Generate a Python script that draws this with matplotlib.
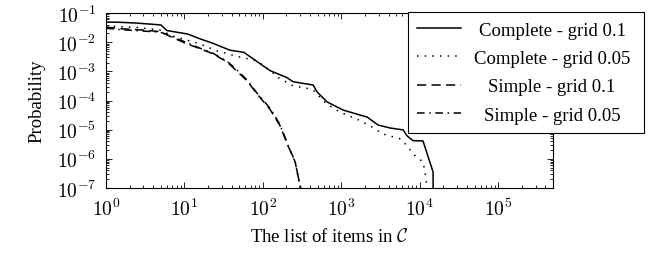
import numpy as np
import matplotlib
matplotlib.use("Agg")
import matplotlib.pyplot as plt
from matplotlib.ticker import LogLocator, NullFormatter, FuncFormatter
from matplotlib.offsetbox import VPacker

plt.rcParams['font.family'] = ['Liberation Serif', 'DejaVu Serif']
plt.rcParams['mathtext.fontset'] = 'cm'
plt.rcParams['font.size'] = 13.5

# values (probability vs list size)
x_comp_01 = [1, 1.5, 2.5, 5, 6, 11, 15.8, 23, 38, 57, 124, 200, 243, 437, 492,
             660, 1055, 1590, 2140, 2950, 4200, 6150, 6900, 8200, 11000, 12700,
             14800, 14800]
y_comp_01 = [0.049, 0.048, 0.045, 0.039, 0.025, 0.019, 0.013, 0.0092, 0.0053,
             0.0045, 0.00105, 6.2e-4, 4.4e-4, 3.4e-4, 1.95e-4, 8.9e-5, 4.7e-5,
             3.4e-5, 2.7e-5, 1.44e-5, 1.14e-5, 9.8e-6, 6.1e-6, 4.2e-6, 4.1e-6,
             1.25e-6, 3.5e-7, 1e-7]

x_comp_005 = [1, 2.5, 4.9, 7.1, 15.8, 26, 51, 84, 134, 152, 222, 243, 400, 437,
              465, 620, 720, 960, 1590, 2330, 3400, 5700, 6900, 8200, 11000,
              11700, 12400]
y_comp_005 = [0.036, 0.032, 0.026, 0.0163, 0.0087, 0.005, 0.0031, 0.0023,
              9.0e-4, 6.4e-4, 3.6e-4, 3.2e-4, 2.5e-4, 2.3e-4, 1.95e-4, 8.5e-5,
              6.4e-5, 4.0e-5, 2.3e-5, 1.35e-5, 7.1e-6, 4.8e-6, 2.8e-6, 1.47e-6,
              7.8e-7, 3.5e-7, 1.0e-7]

x_simp_01 = [1, 1.5, 3, 4.9, 6.5, 10.8, 15.8, 23, 35, 47, 63, 84, 123, 165,
             209, 258, 280, 305]
y_simp_01 = [0.033, 0.029, 0.026, 0.023, 0.016, 0.0087, 0.006, 0.004, 0.0021,
             0.001, 4.7e-4, 1.7e-4, 5.0e-5, 1.4e-5, 2.8e-6, 7.8e-7, 2.6e-7, 1e-7]

x_simp_005 = [1, 1.5, 3, 4.9, 6.5, 10.8, 15.8, 23, 35, 47, 63, 84, 123, 165,
              209, 258, 280, 300]
y_simp_005 = [0.030, 0.027, 0.024, 0.022, 0.017, 0.0095, 0.0062, 0.0042,
              0.0022, 0.0011, 5.0e-4, 1.8e-4, 5.5e-5, 1.5e-5, 3.0e-6, 8.0e-7,
              2.7e-7, 1e-7]

labels = ["Complete - grid 0.1", "Complete - grid 0.05",
          "Simple - grid 0.1", "Simple - grid 0.05"]

fig = plt.figure(figsize=(6.54, 2.55), dpi=100)
ax = fig.add_axes([106/654, 66/255, 447/654, 175/255])

ax.plot(x_comp_01, y_comp_01, color='black', lw=1.1, ls='-', label=labels[0])
ax.plot(x_comp_005, y_comp_005, color='black', lw=1.1, ls=(0, (1, 4)), label=labels[1])
ax.plot(x_simp_01, y_simp_01, color='black', lw=1.1, ls=(0, (6, 3.5)), label=labels[2])
ax.plot(x_simp_005, y_simp_005, color='black', lw=1.1, ls=(0, (5, 3, 1, 3)), label=labels[3])

ax.set_xscale('log')
ax.set_yscale('log')
ax.set_xlim(1, 5e5)
ax.set_ylim(1e-7, 1e-1)

# tick labels in computer modern, like the latex original
pow10 = FuncFormatter(lambda v, p: r'$10^{%d}$' % int(round(np.log10(v))))
ax.xaxis.set_major_locator(LogLocator(base=10, numticks=20))
ax.yaxis.set_major_locator(LogLocator(base=10, numticks=20))
ax.xaxis.set_major_formatter(pow10)
ax.yaxis.set_major_formatter(pow10)
ax.xaxis.set_minor_locator(LogLocator(base=10, subs=np.arange(2, 10), numticks=20))
ax.yaxis.set_minor_locator(LogLocator(base=10, subs=np.arange(2, 10), numticks=20))
ax.xaxis.set_minor_formatter(NullFormatter())
ax.yaxis.set_minor_formatter(NullFormatter())

ax.tick_params(which='both', direction='in', top=True, right=True, width=0.6)
ax.tick_params(which='major', length=4.5, pad=7, labelsize=14)
ax.tick_params(which='minor', length=2.5)
for s in ax.spines.values():
    s.set_linewidth(0.8)

ax.set_xlabel(r"The list of items in $\mathcal{C}$", labelpad=6)
ax.set_ylabel("Probability", labelpad=8)

leg = ax.legend(loc='upper left', bbox_to_anchor=(408/654, 242/255),
                bbox_transform=fig.transFigure, borderaxespad=0,
                fancybox=False, framealpha=1, edgecolor='black',
                handlelength=2.3, handletextpad=0.5, labelspacing=0.6,
                borderpad=0.5)
leg.get_frame().set_linewidth(0.8)

# center legend text like pgfplots does
fig.canvas.draw()
r = fig.canvas.get_renderer()
rows = leg._legend_handle_box.get_children()[0].get_children()
wmax = max(row.get_children()[1].get_bbox(r).width for row in rows) + 8
for row in rows:
    h, t = row.get_children()
    row._children = [h, VPacker(children=[t], align='center', width=wmax, pad=0, sep=0)]

fig.savefig("out.png", dpi=100)
